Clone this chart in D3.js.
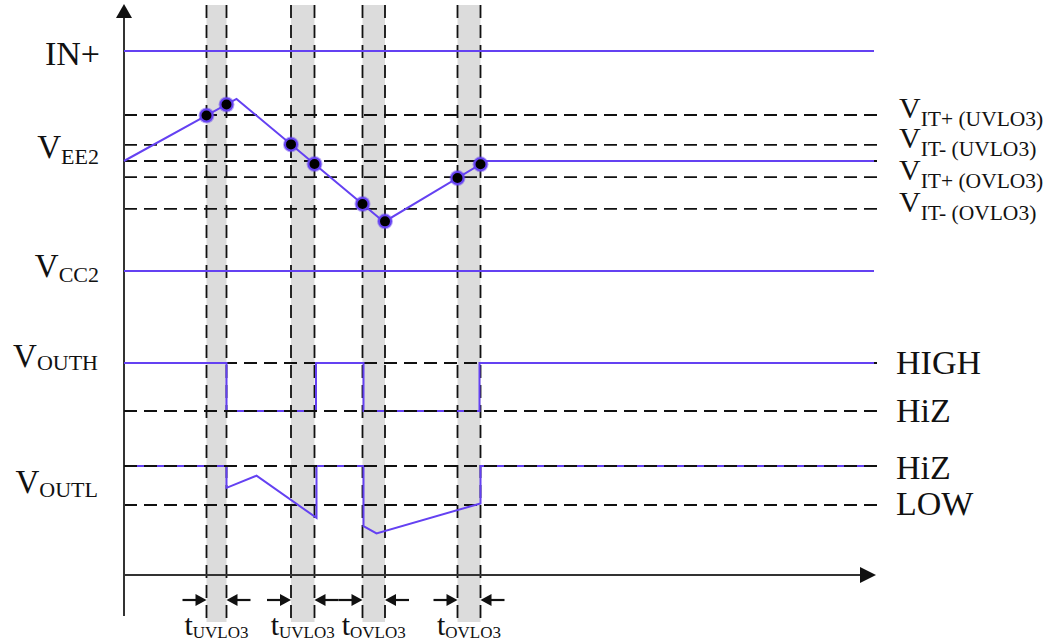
<!DOCTYPE html>
<html>
<head>
<meta charset="utf-8">
<script src="https://cdn.jsdelivr.net/npm/d3@7"></script>
<style>
  body { margin: 0; background: #fff; }
  text { font-family: "Liberation Serif", "Times New Roman", serif; fill: #111; }
</style>
</head>
<body>
<div id="chart"></div>
<script>
// ---- data (time in arbitrary units, levels per panel) ----
var edgeTimes = [16.5, 20.5, 33.4, 38.1, 47.7, 52.2, 66.7, 71.3];
var bandNames = ["UVLO3", "UVLO3", "OVLO3", "OVLO3"];

var thresholdNames = ["IT+ (UVLO3)", "IT- (UVLO3)", "IT+ (OVLO3)", "IT- (OVLO3)"];
var thresholdValues = [7.09, 5.73, 4.27, 2.82];
var inLevel = 10, vee2Level = 5.0, vcc2Level = 0;

// VEE2 analog waveform [t, V]
var vee2Wave = [[0, 5.0], [22.5, 7.82], [52.0, 2.23], [72.4, 5.0], [150, 5.0]];
// outputs, level 1 = upper state, 0 = lower state
var vouthWave = [[0,1],[20.5,1],[20.5,0],[38.4,0],[38.4,1],[47.9,1],[47.9,0],[71.1,0],[71.1,1],[150,1]];
var voutlWave = [[0,1],[20.5,1],[20.5,0.44],[26.5,0.75],[38.5,-0.33],[38.5,1],[47.9,1],[47.9,-0.54],[50.5,-0.73],[71.3,0.04],[71.3,1],[150,1]];
var vouthStates = ["HIGH", "HiZ"];
var voutlStates = ["HiZ", "LOW"];

// ---- setup ----
var W = 1053, H = 642;
var purple = "#6441f2";
var svg = d3.select("#chart").append("svg").attr("width", W).attr("height", H);
svg.append("rect").attr("width", W).attr("height", H).attr("fill", "#fff");

var x = d3.scaleLinear().domain([0, 150]).range([124, 874]);
var yA = d3.scaleLinear().domain([0, 10]).range([271, 51]);
var yH = d3.scaleLinear().domain([0, 1]).range([411, 363]);
var yL = d3.scaleLinear().domain([0, 1]).range([505, 466]);
var xEnd = x(151);
var topY = 5, botY = 622;

var lBands = svg.append("g"), lVdash = svg.append("g"), lHdash = svg.append("g");
var lAxis = svg.append("g"), lWave = svg.append("g"), lTop = svg.append("g"), lText = svg.append("g");

// gray bands between edge pairs
var bands = d3.range(4).map(function(i) { return [edgeTimes[2*i], edgeTimes[2*i+1]]; });
lBands.selectAll("rect").data(bands).enter().append("rect")
  .attr("x", function(d) { return x(d[0]); })
  .attr("width", function(d) { return x(d[1]) - x(d[0]); })
  .attr("y", topY).attr("height", botY - topY)
  .attr("fill", "#dcdcdc");

// vertical dashed edges
lVdash.selectAll("line").data(edgeTimes).enter().append("line")
  .attr("x1", function(d) { return x(d); }).attr("x2", function(d) { return x(d); })
  .attr("y1", topY).attr("y2", botY)
  .attr("stroke", "#111").attr("stroke-width", 1.8).attr("stroke-dasharray", "13,7");

// horizontal dashed levels
function hdash(layer, y) {
  layer.append("line").attr("x1", x(0)).attr("x2", xEnd).attr("y1", y).attr("y2", y)
    .attr("stroke", "#111").attr("stroke-width", 1.8).attr("stroke-dasharray", "13,7");
}
thresholdValues.forEach(function(v) { hdash(lHdash, yA(v)); });
hdash(lHdash, yA(vee2Level));
hdash(lHdash, yH(1));
hdash(lHdash, yL(0));
hdash(lTop, yH(0));
hdash(lTop, yL(1));

// axes
lAxis.append("line").attr("x1", x(0)).attr("x2", x(0)).attr("y1", 616).attr("y2", 16)
  .attr("stroke", "#333").attr("stroke-width", 2);
lAxis.append("path").attr("d", "M" + x(0) + ",4L" + (x(0)-8) + ",18L" + (x(0)+8) + ",18Z").attr("fill", "#111");
lAxis.append("line").attr("x1", x(0)).attr("x2", 862).attr("y1", 575).attr("y2", 575)
  .attr("stroke", "#333").attr("stroke-width", 2);
lAxis.append("path").attr("d", "M876,575L860,567L860,583Z").attr("fill", "#111");

// waveforms
function wave(data, y) {
  lWave.append("path").datum(data)
    .attr("d", d3.line().x(function(d) { return x(d[0]); }).y(function(d) { return y(d[1]); }))
    .attr("fill", "none").attr("stroke", purple).attr("stroke-width", 2);
}
wave([[0, inLevel], [150, inLevel]], yA);
wave([[0, vcc2Level], [150, vcc2Level]], yA);
wave(vee2Wave, yA);
wave(vouthWave, yH);
wave(voutlWave, yL);

// dots where VEE2 crosses each edge
function valueAt(t) {
  for (var i = 1; i < vee2Wave.length; i++) {
    var a = vee2Wave[i-1], b = vee2Wave[i];
    if (t <= b[0]) return a[1] + (b[1] - a[1]) * (t - a[0]) / (b[0] - a[0]);
  }
  return vee2Wave[vee2Wave.length-1][1];
}
var dots = lTop.selectAll("g.dot").data(edgeTimes).enter().append("g")
  .attr("transform", function(d) { return "translate(" + x(d) + "," + yA(valueAt(d)) + ")"; });
dots.append("circle").attr("r", 8).attr("fill", purple).attr("opacity", 0.45);
dots.append("circle").attr("r", 6).attr("fill", "#000").attr("stroke", purple).attr("stroke-width", 2);

// timing arrows
function arrow(x1, x2, y) {
  var dir = x2 > x1 ? 1 : -1;
  lTop.append("line").attr("x1", x1).attr("x2", x2 - dir*8).attr("y1", y).attr("y2", y)
    .attr("stroke", "#111").attr("stroke-width", 2.2);
  lTop.append("path").attr("d", "M" + x2 + "," + y + "L" + (x2 - dir*11) + "," + (y-6) + "L" + (x2 - dir*11) + "," + (y+6) + "Z")
    .attr("fill", "#111");
}
bands.forEach(function(b, i) {
  arrow(x(b[0]) - 24, x(b[0]), 600);
  arrow(x(b[1]) + 24, x(b[1]), 600);
  var t = lText.append("text").attr("x", (x(b[0]) + x(b[1])) / 2).attr("y", 635).attr("text-anchor", "middle");
  t.append("tspan").attr("font-size", 30).text("t");
  t.append("tspan").attr("font-size", 17).attr("dy", 3).text(bandNames[i]);
});

// labels
function label(xp, y, anchor, main, sub, fs, sfs, dy) {
  var t = lText.append("text").attr("x", xp).attr("y", y).attr("text-anchor", anchor);
  t.append("tspan").attr("font-size", fs).text(main);
  if (sub) t.append("tspan").attr("font-size", sfs).attr("dy", dy).text(sub);
}
label(100, yA(inLevel) + 14, "end", "IN+", "", 34);
label(99, yA(vee2Level) - 3, "end", "V", "EE2", 33, 22, 6);
label(99, yA(vcc2Level) + 6, "end", "V", "CC2", 33, 22, 5);
label(98, yH(1) + 4, "end", "V", "OUTH", 33, 22, 3);
label(98, 493, "end", "V", "OUTL", 33, 22, 4);

thresholdNames.forEach(function(n, i) {
  label(899, yA(thresholdValues[i]) + 3, "start", "V", n, 30, 21.5, 8);
});
label(896, yH(1) + 11, "start", vouthStates[0], "", 34);
label(896, yH(0) + 11, "start", vouthStates[1], "", 34);
label(896, yL(1) + 13, "start", voutlStates[0], "", 34);
label(896, yL(0) + 10, "start", voutlStates[1], "", 34);
</script>
</body>
</html>
